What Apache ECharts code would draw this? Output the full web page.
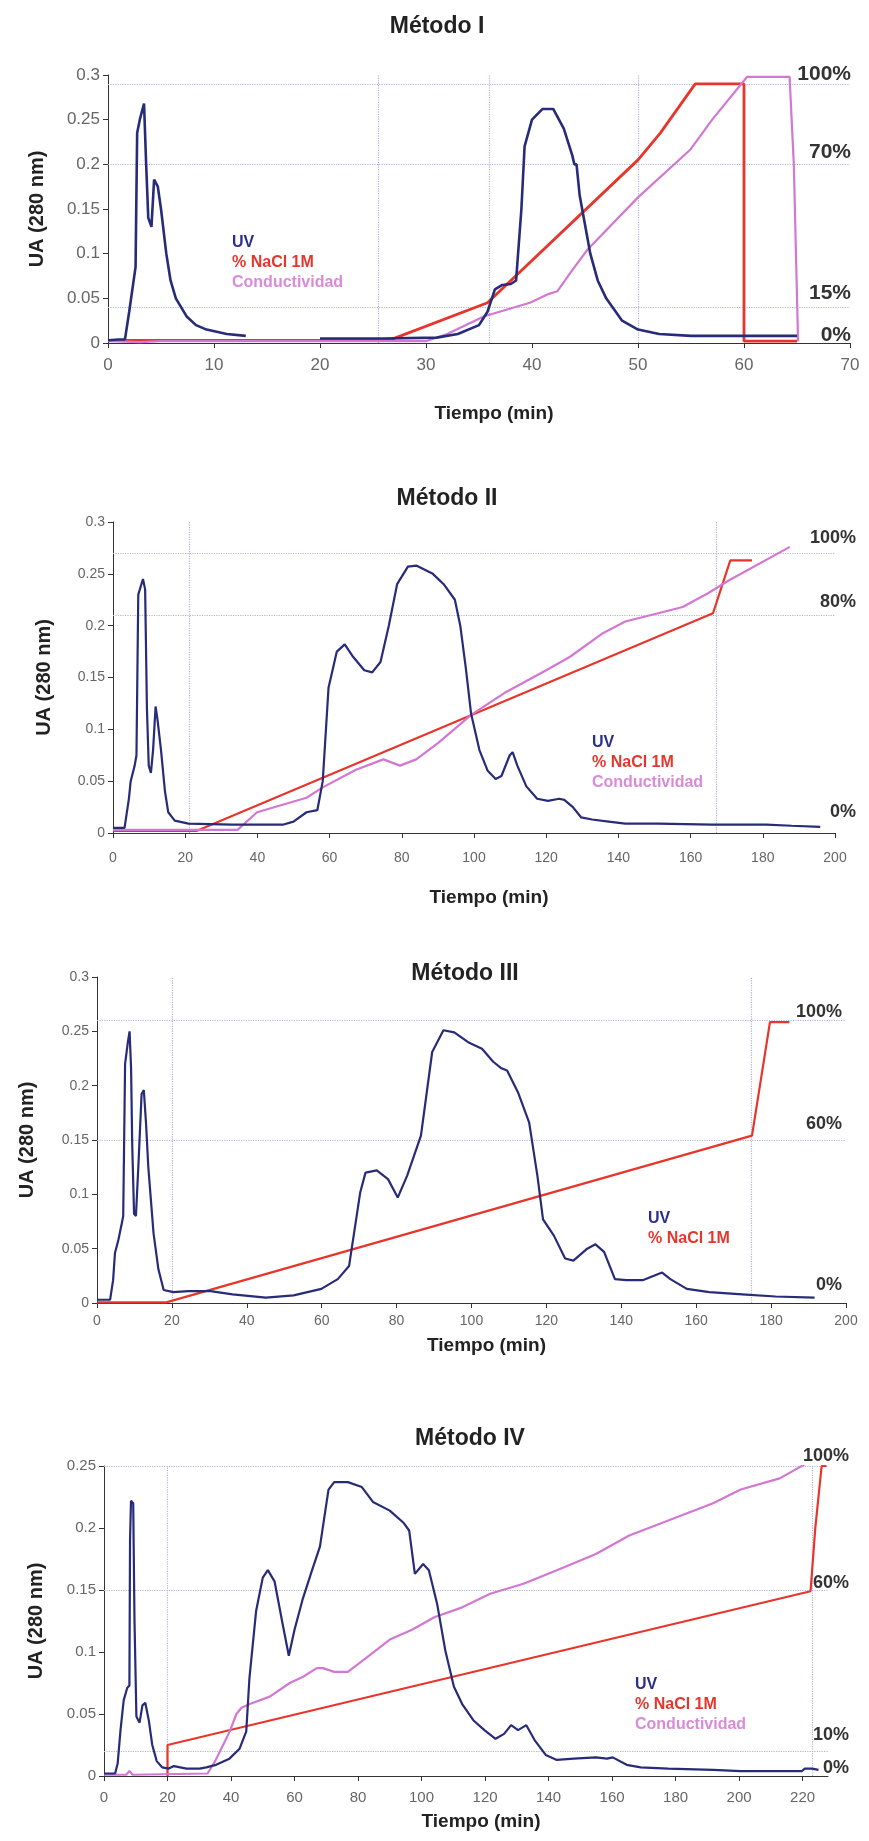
<!DOCTYPE html>
<html><head><meta charset="utf-8">
<script src="https://cdn.jsdelivr.net/npm/echarts@6/dist/echarts.min.js"></script>
<style>html,body{margin:0;padding:0;background:#fff}#c{width:869px;height:1841px}</style>
</head><body><div id="c"></div>
<script>
// ---------- DATA ----------
const titles = ['Método I', 'Método II', 'Método III', 'Método IV'];
const seriesNames = ['UV', '% NaCl 1M', 'Conductividad'];
const xName = 'Tiempo (min)';
const yName = 'UA (280 nm)';

// Método I
const uv1 = [[0,0.003],[1,0.004],[1.6,0.004],[2.0,0.035],[2.3,0.06],[2.6,0.085],[2.75,0.235],[3.0,0.25],[3.4,0.268],[3.6,0.2],[3.8,0.14],[4.1,0.13],[4.35,0.183],[4.7,0.175],[5.0,0.15],[5.5,0.1],[5.9,0.07],[6.4,0.05],[7.4,0.03],[8.3,0.02],[9.3,0.015],[11.2,0.01],[13.0,0.008],[16,'-'],[20,0.005],[26,0.005],[31,0.006],[33,0.01],[35,0.02],[35.8,0.035],[36.5,0.06],[37.2,0.065],[38,0.066],[38.5,0.07],[39,0.15],[39.3,0.22],[40,0.25],[41,0.262],[42,0.262],[43,0.24],[43.8,0.21],[44,0.2],[44.2,0.2],[44.5,0.165],[45.5,0.1],[46.2,0.07],[47,0.05],[48.5,0.025],[50,0.015],[52,0.01],[55,0.008],[60,0.008],[65,0.008]];
const nacl1 = [[0,0.003],[26.5,0.003],[35.8,0.045],[50,0.205],[52.1,0.235],[55.4,0.29],[60,0.29],[60,0.002],[65,0.002]];
const cond1 = [[0,0.002],[3,0.001],[5,0.002],[30,0.002],[32,0.01],[35.5,0.03],[39.8,0.045],[41.6,0.055],[42.4,0.058],[43.7,0.08],[45.2,0.104],[50,0.163],[54.9,0.216],[57,0.25],[60.3,0.298],[64.3,0.298],[64.7,0.2],[65.1,0.002]];
const hLines1 = [0.29, 0.205, 0.042, 0];
const pct1 = ['100%', '70%', '15%', '0%'];
const vLines1 = [25.5, 36, 50];

// Método II
const uv2 = [[0,0.005],[3.2,0.005],[4.4,0.033],[4.9,0.05],[6.0,0.065],[6.5,0.075],[7.0,0.23],[8.3,0.245],[8.9,0.235],[9.4,0.12],[9.9,0.065],[10.5,0.058],[11.1,0.08],[11.8,0.122],[12.3,0.11],[13.3,0.08],[14.4,0.04],[15.3,0.02],[17.1,0.012],[20.9,0.009],[33,0.008],[47,0.008],[50,0.011],[53.6,0.02],[56.6,0.022],[58.1,0.05],[59.7,0.14],[62,0.175],[64.2,0.182],[66.5,0.17],[69.6,0.157],[71.8,0.155],[74.1,0.165],[76.4,0.2],[78.7,0.24],[81.7,0.257],[84,0.258],[88.6,0.25],[91.6,0.24],[94.7,0.225],[96.2,0.2],[97.7,0.16],[99.2,0.115],[101.5,0.08],[103.8,0.06],[106,0.052],[107.6,0.055],[109.9,0.075],[110.7,0.078],[112,0.065],[114.5,0.045],[117.5,0.033],[120.5,0.031],[123.6,0.033],[125,0.032],[127.4,0.025],[129.7,0.015],[132.7,0.013],[137.3,0.011],[141.9,0.009],[151,0.009],[166,0.008],[181,0.008],[188,0.007],[195.9,0.006]];
const nacl2 = [[0,0.002],[23.1,0.002],[166.2,0.212],[171,0.263],[177,0.263]];
const cond2 = [[0,0.003],[34.5,0.003],[39.9,0.02],[53.6,0.034],[58.1,0.044],[67.3,0.061],[74.9,0.071],[79.5,0.065],[84,0.071],[90.1,0.087],[99.2,0.114],[108.4,0.135],[120.5,0.158],[126.6,0.17],[135.8,0.193],[141.9,0.204],[151,0.212],[157.8,0.218],[164.7,0.231],[170.8,0.244],[187.5,0.276]];
const hLines2 = [0.269, 0.208, 0];
const pct2 = ['100%', '80%', '0%'];
const vLines2 = [21, 167];

// Método III
const uv3 = [[0,0.003],[3.5,0.003],[4.3,0.021],[4.8,0.046],[5.7,0.058],[6.6,0.073],[7.0,0.08],[7.5,0.22],[8.2,0.239],[8.7,0.25],[9.1,0.216],[9.4,0.146],[9.9,0.082],[10.4,0.08],[11.1,0.13],[11.9,0.192],[12.5,0.196],[13.1,0.165],[13.7,0.125],[15.1,0.064],[16.4,0.031],[17.8,0.012],[20.4,0.01],[24.4,0.011],[30.3,0.011],[36.2,0.008],[45.1,0.005],[52.5,0.007],[59.9,0.013],[64.3,0.022],[67.3,0.034],[70.3,0.102],[71.7,0.12],[74.7,0.122],[77.7,0.114],[80.3,0.097],[82.8,0.117],[86.5,0.154],[89.5,0.231],[92.5,0.251],[95.4,0.249],[99.1,0.24],[102.8,0.234],[105.8,0.222],[108,0.216],[109.5,0.214],[112.4,0.194],[115.4,0.166],[117.6,0.117],[119.1,0.077],[122,0.062],[125,0.041],[127.2,0.039],[130.9,0.05],[133.1,0.054],[135.4,0.047],[138.3,0.022],[141.3,0.021],[145.7,0.021],[148.7,0.025],[150.9,0.028],[153.1,0.022],[157.5,0.013],[163.5,0.01],[172.3,0.008],[181.2,0.006],[191.6,0.005]];
const nacl3 = [[0,0.0006],[18.5,0.0006],[174.9,0.154],[179.7,0.2585],[184.9,0.2585]];
const hLines3 = [0.2585, 0.154, 0];
const pct3 = ['100%', '60%', '0%'];
const vLines3 = [20, 174.8];

// Método IV
const uv4 = [[0,0.002],[3.5,0.002],[4.3,0.01],[5.2,0.037],[6.2,0.061],[7.3,0.071],[8.0,0.073],[8.2,0.19],[8.5,0.222],[9.2,0.22],[9.6,0.126],[10.2,0.048],[11.2,0.043],[12.1,0.057],[13.0,0.059],[14.1,0.045],[15.2,0.025],[16.6,0.012],[18.3,0.007],[20.4,0.006],[22,0.008],[26,0.006],[30.1,0.006],[32.2,0.007],[35.3,0.009],[39.5,0.014],[42.7,0.022],[44.8,0.036],[45.8,0.079],[47.9,0.133],[50,0.16],[51.6,0.166],[53.7,0.157],[56.3,0.122],[58.2,0.097],[60,0.118],[62.5,0.142],[65.4,0.165],[68,0.185],[70.7,0.231],[72.5,0.237],[76.8,0.237],[81.2,0.233],[84.7,0.221],[90,0.214],[94.4,0.204],[96.1,0.198],[97.9,0.163],[100.5,0.171],[102.3,0.166],[104.9,0.139],[107.5,0.101],[110.2,0.072],[112.8,0.058],[116.3,0.045],[119.8,0.037],[123.3,0.03],[126,0.034],[128.2,0.041],[130.4,0.037],[133,0.041],[135.6,0.029],[139.1,0.017],[142.6,0.013],[147.9,0.014],[154.9,0.015],[158.4,0.014],[160.2,0.015],[164.6,0.009],[169,0.007],[177.7,0.006],[191.8,0.005],[200.5,0.004],[219.8,0.004],[220.7,0.006],[223,0.006],[225,0.005]];
const nacl4 = [[20,0],[20,0.025],[222.5,0.149],[224,0.2],[226,0.25],[227.5,0.25]];
const cond4 = [[0,0.001],[7,0.001],[8,0.004],[9,0.001],[32.6,0.002],[35,0.012],[37.5,0.025],[39.6,0.036],[41.7,0.05],[43.3,0.055],[45.9,0.058],[52.2,0.064],[58.5,0.075],[62.7,0.08],[67,0.087],[69,0.087],[72.5,0.084],[76.8,0.084],[83,0.096],[90,0.11],[97,0.118],[104,0.128],[112.8,0.136],[121.6,0.147],[132.1,0.155],[142.6,0.166],[154.9,0.179],[165.4,0.194],[177.7,0.206],[191.8,0.22],[200.5,0.231],[212.8,0.24],[221.8,0.253]];
const hLines4 = [0.2473, 0.149, 0.0226, 0];
const pct4 = ['100%', '60%', '10%', '0%'];
const vLines4 = [20, 223];

// axis ranges
const xMaxes = [70, 200, 200, 228];
const xIntervals = [10, 20, 20, 20];
const yMaxes = [0.3, 0.3, 0.3, 0.25];

// ---------- LAYOUT / STYLE ----------
const C_UV = '#272b78', C_NA = '#e8352b', C_CO = '#d277d2';
const GRID = '#aeb4dc';
const panels = [
  {uv: uv1, na: nacl1, co: cond1, h: hLines1, pct: pct1, v: vLines1},
  {uv: uv2, na: nacl2, co: cond2, h: hLines2, pct: pct2, v: vLines2},
  {uv: uv3, na: nacl3, co: null,  h: hLines3, pct: pct3, v: vLines3},
  {uv: uv4, na: nacl4, co: cond4, h: hLines4, pct: pct4, v: vLines4}
];
const grids = [
  {left: 108, right: 19, top: 75,   height: 268},
  {left: 113, right: 34, top: 522,  height: 311},
  {left: 97,  right: 23, top: 977,  height: 326},
  {left: 104, right: 41, top: 1466, height: 310}
];
const titlePos = [[432, 10], [442, 482], [460, 957], [465, 1422]];
const tickFont = [17, 14, 14, 15];
const xLabelMargin = [14, 18, 11, 14];
const xNameGap = [61, 55, 33, 36];
const yNameGap = [61, 59, 60, 58];
const legendPos = [[222, 230], [582, 730], [638, 1206], [625, 1672]];
const pctRight = [851, 856, 842, 849];
const pctFont = [21, 18, 18, 18];
const pctDy = [[10, 8, 12, 8], [16, 15, 21], [10, 12, 18], [13, 8, 13, 8]];
const font = 'Liberation Sans, Arial, sans-serif';

const chart = echarts.init(document.getElementById('c'), null, {renderer: 'canvas'});

const option = {
  backgroundColor: '#fff',
  animation: false,
  title: titles.map((t, i) => ({
    text: t, left: titlePos[i][0], top: titlePos[i][1], textAlign: 'center',
    textStyle: {fontFamily: font, fontSize: 23, fontWeight: 'bold', color: '#222'}
  })),
  grid: grids.map(g => Object.assign({containLabel: false}, g)),
  xAxis: grids.map((g, i) => ({
    type: 'value', gridIndex: i, min: 0, max: xMaxes[i], interval: xIntervals[i],
    name: xName, nameLocation: 'middle', nameGap: xNameGap[i],
    nameTextStyle: {fontFamily: font, fontSize: 19, fontWeight: 'bold', color: '#222', padding: [0, 0, 0, 30]},
    axisLine: {lineStyle: {color: '#333', width: 1}},
    axisTick: {show: true, length: 5, lineStyle: {color: '#333'}},
    axisLabel: {fontFamily: font, fontSize: tickFont[i], color: '#666', margin: xLabelMargin[i], showMaxLabel: i !== 3},
    splitLine: {show: false}
  })),
  yAxis: grids.map((g, i) => ({
    type: 'value', gridIndex: i, min: 0, max: yMaxes[i], interval: 0.05,
    name: yName, nameLocation: 'middle', nameGap: yNameGap[i], nameRotate: 90,
    nameTextStyle: {fontFamily: font, fontSize: 20, fontWeight: 'bold', color: '#222'},
    axisLine: {show: true, lineStyle: {color: '#333', width: 1}},
    axisTick: {show: true, length: 5, lineStyle: {color: '#333'}},
    axisLabel: {fontFamily: font, fontSize: tickFont[i], color: '#666', margin: 8},
    splitLine: {show: false}
  })),
  legend: panels.map((p, i) => ({
    orient: 'vertical', left: legendPos[i][0], top: legendPos[i][1],
    icon: 'none', itemWidth: 0, itemHeight: 14, itemGap: 4, selectedMode: false,
    textStyle: {fontFamily: font, fontSize: 16, fontWeight: 'bold'},
    data: [
      {name: seriesNames[0], textStyle: {color: '#2a2f88'}},
      {name: seriesNames[1], textStyle: {color: '#e8352b'}}
    ].concat(p.co ? [{name: seriesNames[2], textStyle: {color: '#d98bd9'}}] : [])
  })),
  series: []
};

panels.forEach((p, i) => {
  const markData = p.h.filter(v => v > 0).map(v => ({yAxis: v}))
    .concat(p.v.map(v => ({xAxis: v})));
  option.series.push({
    name: seriesNames[0], type: 'line', xAxisIndex: i, yAxisIndex: i,
    data: p.uv, showSymbol: false, symbol: 'none', z: 4,
    lineStyle: {color: C_UV, width: i === 0 ? 2.6 : 2.2}, itemStyle: {color: C_UV},
    markLine: {silent: true, symbol: 'none', label: {show: false},
      lineStyle: {color: GRID, type: 'dotted', width: 1.2}, data: markData, z: 1}
  });
  option.series.push({
    name: seriesNames[1], type: 'line', xAxisIndex: i, yAxisIndex: i,
    data: p.na, showSymbol: false, symbol: 'none', z: 3,
    lineStyle: {color: C_NA, width: i === 0 ? 2.8 : 2.2}, itemStyle: {color: C_NA}
  });
  if (p.co) {
    option.series.push({
      name: seriesNames[2], type: 'line', xAxisIndex: i, yAxisIndex: i,
      data: p.co, showSymbol: false, symbol: 'none', z: 3,
      lineStyle: {color: C_CO, width: 2.2}, itemStyle: {color: C_CO}
    });
  }
});

chart.setOption(option);

// percentage labels on the right, anchored to the gradient reference lines
const graphics = [];
panels.forEach((p, i) => {
  p.h.forEach((v, j) => {
    const py = chart.convertToPixel({gridIndex: i}, [0, v])[1];
    graphics.push({
      type: 'text', x: pctRight[i], y: py - pctDy[i][j], silent: true,
      style: {text: p.pct[j], fontFamily: font, fontSize: pctFont[i], fontWeight: 'bold',
        fill: '#333', align: 'right', verticalAlign: 'middle'}
    });
  });
});
chart.setOption({graphic: graphics});
</script>
</body></html>
